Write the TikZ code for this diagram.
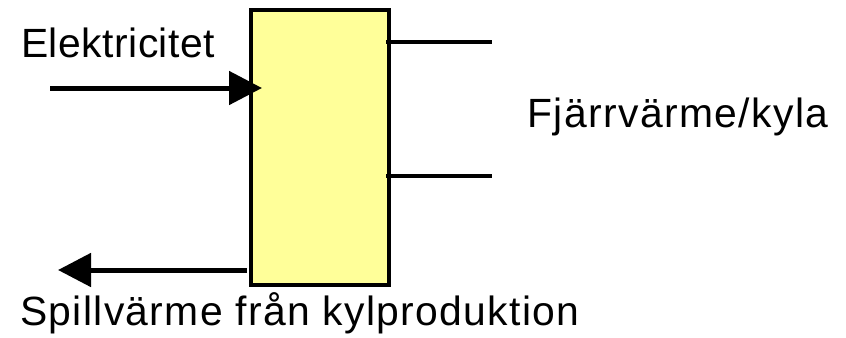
\documentclass[tikz,border=0pt]{standalone}
\usepackage{fontspec}
\setmainfont{Liberation Sans}
\usetikzlibrary{arrows.meta}
\definecolor{boxfill}{RGB}{255,255,153}
\tikzset{
  lbl/.style={font=\fontsize{41}{48}\selectfont, inner sep=0pt, anchor=base west},
  flow/.style={line width=5bp, -{Triangle[length=33bp,width=33bp]}},
  pipe/.style={line width=4.5bp},
  unit/.style={draw, line width=4.8bp, fill=boxfill, minimum width=138bp, minimum height=275bp, inner sep=0pt}
}
\begin{document}
\begin{tikzpicture}[x=1bp,y=-1bp]
\useasboundingbox (0,0) rectangle (846,337);
\node[unit] (box) at (320,147.5) {};
\coordinate (ein) at (50,88);
\coordinate (eout) at (262,88);
\coordinate (sin) at (247,270);
\coordinate (sout) at (58,270);
\coordinate (f1a) at (386,42);
\coordinate (f1b) at (492,42);
\coordinate (f2a) at (386,176);
\coordinate (f2b) at (492,176);
\draw[flow] (ein) -- (eout);
\draw[flow] (sin) -- (sout);
\draw[pipe] (f1a) -- (f1b);
\draw[pipe] (f2a) -- (f2b);
\node[lbl] (el) at (21,57) {\addfontfeature{LetterSpace=1.2}Elektricitet};
\node[lbl] (fj) at (527,127) {\addfontfeature{LetterSpace=3.5}Fjärrvärme/kyla};
\node[lbl] (sp) at (20,325) {\addfontfeature{LetterSpace=3.3}Spillvärme från kylproduktion};
\end{tikzpicture}
\end{document}
